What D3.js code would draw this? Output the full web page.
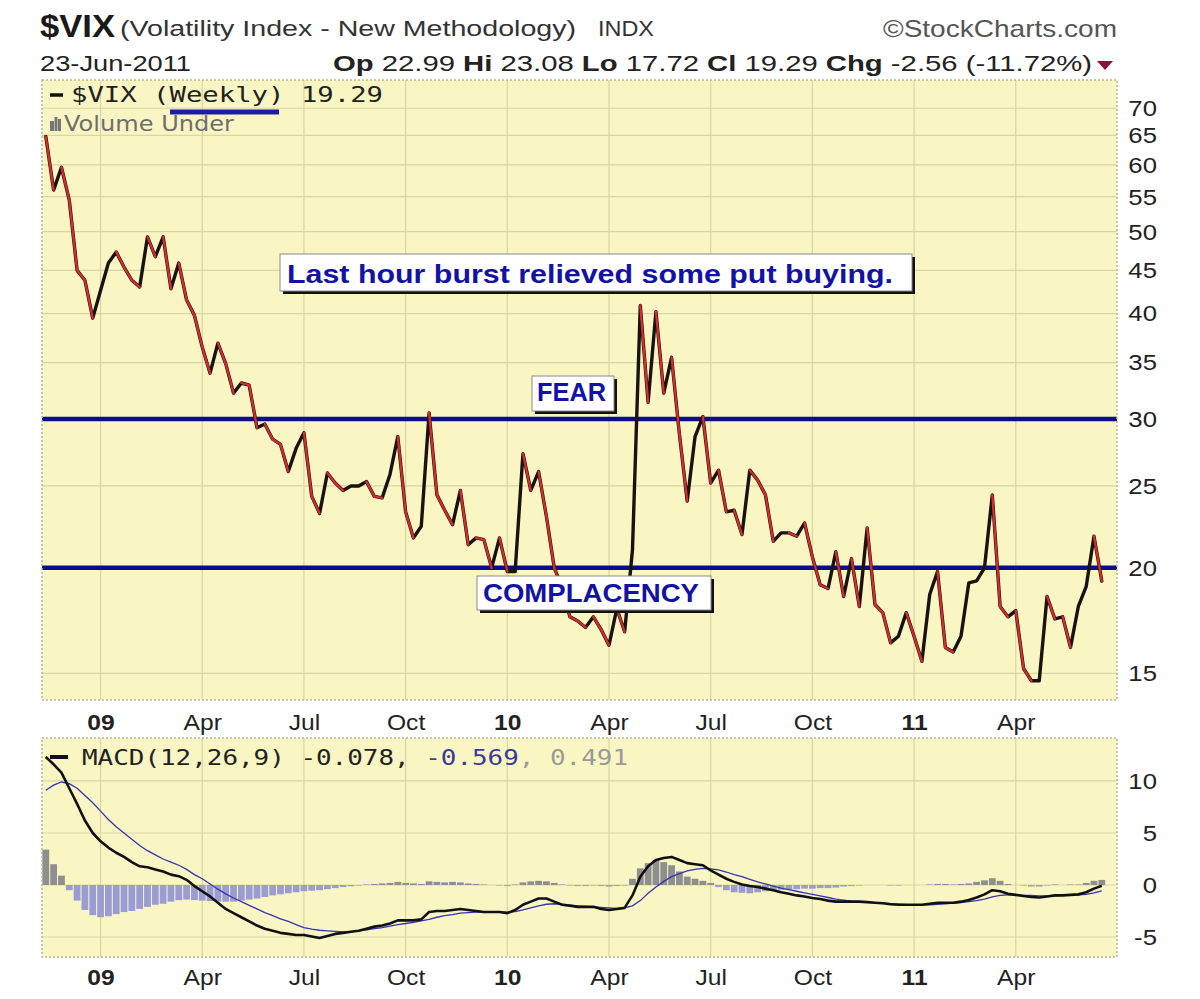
<!DOCTYPE html>
<html><head><meta charset="utf-8">
<script src="https://cdn.jsdelivr.net/npm/d3@7"></script>
<style>body{margin:0;background:#fff;}svg{display:block;}</style>
</head><body>
<svg id="c" width="1200" height="999"></svg>
<script>
// ---------------- DATA ----------------
const firstWeek = "2008-11-17";          // week of the first weekly bar
const vixClose = [64.8,56.0,59.6,54.5,45.0,43.8,39.5,42.6,45.9,47.3,
 45.4,43.8,43.0,49.3,46.7,49.3,42.8,45.9,41.5,39.8,
 36.5,34.0,36.9,34.9,32.2,33.1,32.9,29.3,29.6,28.4,
 28.0,26.0,27.7,28.9,24.3,23.2,25.9,25.2,24.7,25.0,
 25.0,25.3,24.3,24.2,25.8,28.6,23.3,21.7,22.4,30.5,
 24.4,23.4,22.5,24.7,21.3,21.7,21.6,20.0,21.7,19.8,
 19.8,27.3,24.7,26.0,23.0,20.0,19.0,17.5,17.3,17.0,
 17.5,16.9,16.2,17.9,16.8,21.0,40.9,31.4,40.2,32.2,
 35.5,28.8,24.0,28.6,30.2,25.2,26.1,23.3,23.4,21.9,
 26.1,25.4,24.4,21.5,22.0,22.0,21.8,22.6,20.6,19.1,
 18.9,20.9,18.5,20.5,18.0,22.3,18.1,17.7,16.3,16.6,
 17.7,16.6,15.5,18.6,19.8,16.1,15.9,16.6,19.2,19.3,
 20.0,24.4,18.0,17.5,17.8,15.2,14.7,14.7,18.5,17.4,
 17.5,16.1,18.0,19.0,21.8,19.29];
const macdLine = [12.3,11.6,10.8,9.3,7.8,6.2,5.0,4.2,3.6,3.1,
 2.7,2.2,1.8,1.7,1.5,1.3,1.0,0.85,0.5,-0.1,
 -0.6,-1.1,-1.7,-2.3,-2.7,-3.1,-3.5,-3.9,-4.2,-4.4,
 -4.6,-4.7,-4.8,-4.8,-4.95,-5.1,-4.9,-4.7,-4.6,-4.5,
 -4.4,-4.2,-4.0,-3.9,-3.7,-3.4,-3.4,-3.4,-3.3,-2.6,
 -2.5,-2.5,-2.4,-2.3,-2.4,-2.5,-2.6,-2.6,-2.6,-2.7,
 -2.4,-1.9,-1.6,-1.3,-1.3,-1.6,-1.9,-2.0,-2.1,-2.1,
 -2.1,-2.3,-2.4,-2.3,-2.2,-1.0,0.8,1.8,2.4,2.6,
 2.7,2.4,2.1,2.0,1.9,1.4,1.0,0.6,0.3,0.05,
 -0.1,-0.2,-0.35,-0.5,-0.7,-0.85,-1.0,-1.1,-1.25,-1.35,
 -1.5,-1.6,-1.6,-1.6,-1.6,-1.65,-1.7,-1.75,-1.85,-1.9,
 -1.9,-1.9,-1.9,-1.8,-1.7,-1.7,-1.7,-1.6,-1.45,-1.2,
 -0.9,-0.5,-0.6,-0.85,-0.95,-1.05,-1.15,-1.2,-1.1,-1.0,
 -1.0,-0.95,-0.9,-0.7,-0.35,-0.078];
const signalLine = [9.1,9.6,9.9,9.75,9.3,8.6,7.9,7.1,6.3,5.6,
 5.0,4.4,3.8,3.3,2.9,2.5,2.2,1.9,1.5,1.0,
 0.6,0.1,-0.4,-0.85,-1.25,-1.6,-1.95,-2.3,-2.65,-2.95,
 -3.25,-3.5,-3.8,-4.1,-4.25,-4.35,-4.4,-4.45,-4.5,-4.5,
 -4.4,-4.3,-4.2,-4.1,-3.95,-3.8,-3.7,-3.6,-3.45,-3.3,
 -3.1,-2.95,-2.85,-2.7,-2.65,-2.6,-2.6,-2.6,-2.6,-2.6,
 -2.55,-2.4,-2.2,-2.0,-1.85,-1.8,-1.85,-1.9,-2.0,-2.05,
 -2.1,-2.15,-2.2,-2.25,-2.2,-2.0,-1.5,-0.8,-0.2,0.35,
 0.8,1.1,1.35,1.5,1.6,1.55,1.45,1.25,1.0,0.8,
 0.55,0.3,0.1,-0.1,-0.3,-0.45,-0.6,-0.75,-0.9,-1.05,
 -1.2,-1.35,-1.45,-1.55,-1.6,-1.65,-1.7,-1.75,-1.8,-1.85,
 -1.9,-1.9,-1.9,-1.9,-1.85,-1.8,-1.75,-1.7,-1.6,-1.5,
 -1.35,-1.15,-1.0,-0.95,-0.95,-1.0,-1.0,-1.05,-1.05,-1.05,
 -1.0,-1.0,-0.95,-0.9,-0.75,-0.569];
const histogram = [3.4,2.0,0.9,-0.5,-1.5,-2.4,-2.9,-3.1,-3.0,-2.8,
 -2.6,-2.5,-2.3,-2.1,-1.9,-1.8,-1.6,-1.45,-1.4,-1.45,
 -1.5,-1.55,-1.6,-1.6,-1.6,-1.5,-1.4,-1.3,-1.15,-1.0,
 -0.9,-0.8,-0.7,-0.6,-0.55,-0.5,-0.4,-0.3,-0.2,-0.12,
 -0.05,0.05,0.1,0.15,0.2,0.3,0.2,0.15,0.1,0.35,
 0.3,0.25,0.3,0.25,0.15,0.1,0.05,0.0,-0.05,-0.1,
 0.05,0.25,0.35,0.4,0.35,0.2,0.05,-0.05,-0.1,-0.1,
 -0.05,-0.1,-0.15,-0.1,-0.05,0.6,1.6,2.1,2.4,2.2,
 1.9,1.3,0.8,0.6,0.4,0.2,-0.2,-0.5,-0.7,-0.75,
 -0.8,-0.7,-0.6,-0.5,-0.45,-0.4,-0.4,-0.35,-0.35,-0.3,
 -0.3,-0.25,-0.15,-0.1,-0.05,0.0,0.0,0.0,-0.05,-0.05,
 0.0,0.0,0.0,0.05,0.1,0.1,0.05,0.1,0.15,0.3,
 0.45,0.65,0.4,0.1,0.0,-0.05,-0.15,-0.15,-0.05,0.05,
 0.0,0.05,0.05,0.2,0.4,0.491];
const priceTicks = [15,20,25,30,35,40,45,50,55,60,65,70];
const macdTicks = [-5,0,5,10];
const tickMonths = ["2009-01","2009-04","2009-07","2009-10","2010-01","2010-04","2010-07","2010-10","2011-01","2011-04"];
const tickLabels = ["09","Apr","Jul","Oct","10","Apr","Jul","Oct","11","Apr"];
const levelLines = [30, 20];
const notes = ["Last hour burst relieved some put buying.", "FEAR", "COMPLACENCY"];

// ---------------- LAYOUT ----------------
const P = {l:42, r:1117, t:80, b:700};
const M = {l:42, r:1117, t:738, b:957};
const BG = "#faf6c4", GRID = "#d9d5a4";
const svg = d3.select("#c");
const FONT = "'Liberation Sans', Arial, Helvetica, sans-serif";
const MONO = "'DejaVu Sans Mono', 'Liberation Mono', monospace";

function txt(g, x, y, s, o={}) {
  const t = g.append("text").attr("x", x).attr("y", y)
    .attr("font-family", o.family || FONT).attr("font-size", o.size || 20)
    .attr("font-weight", o.weight || "normal").attr("fill", o.fill || "#222")
    .attr("text-anchor", o.anchor || "start").text(s);
  if (o.len) t.attr("textLength", o.len).attr("lengthAdjust", "spacingAndGlyphs");
  return t;
}

const start = d3.isoParse(firstWeek + "T00:00:00");
const weeks = vixClose.map((_, i) => d3.timeDay.offset(start, 7 * i));
const x = d3.scaleTime().domain([weeks[0], weeks[weeks.length - 1]]).range([45.8, 1101.8]);
const yP = d3.scaleLog().domain([13.95, 75.6]).range([P.b, P.t]);
const yM = d3.scaleLinear().domain([-6.92, 14.13]).range([M.b, M.t]);
const tickDates = tickMonths.map(m => weeks.find(w => d3.timeFormat("%Y-%m")(w) === m));

// ---------------- HEADER ----------------
const hd = svg.append("g");
txt(hd, 40, 37, "$VIX", {size:31, weight:"bold", len:75, fill:"#1a1a1a"});
txt(hd, 120, 36, "(Volatility Index - New Methodology)", {size:22, len:456, fill:"#333"});
txt(hd, 598, 36, "INDX", {size:22, len:56, fill:"#333"});
txt(hd, 883, 37, "\u00A9StockCharts.com", {size:24, len:234, fill:"#555"});
txt(hd, 40, 71, "23-Jun-2011", {size:22, len:151, fill:"#222"});
const ohlc = hd.append("text").attr("x", 333).attr("y", 71).attr("font-family", FONT)
  .attr("font-size", 22).attr("fill", "#222")
  .attr("textLength", 759).attr("lengthAdjust", "spacingAndGlyphs");
[["Op",1],[" 22.99  ",0],["Hi",1],[" 23.08  ",0],["Lo",1],[" 17.72  ",0],["Cl",1],[" 19.29  ",0],["Chg",1],[" -2.56 (-11.72%)",0]]
  .forEach(([s,b]) => ohlc.append("tspan").attr("font-weight", b ? "bold" : "normal").text(s));
hd.append("path").attr("d", "M1097,61 L1113,61 L1105,70 Z").attr("fill", "#8b1538");

// ---------------- PANELS ----------------
[P, M].forEach(p => {
  svg.append("rect").attr("x", p.l).attr("y", p.t).attr("width", p.r - p.l).attr("height", p.b - p.t).attr("fill", BG);
});
const grid = svg.append("g").attr("stroke", GRID).attr("stroke-width", 1.2);
priceTicks.forEach(v => grid.append("line").attr("x1", P.l).attr("x2", P.r).attr("y1", yP(v)).attr("y2", yP(v)));
macdTicks.forEach(v => grid.append("line").attr("x1", M.l).attr("x2", M.r).attr("y1", yM(v)).attr("y2", yM(v)));
tickDates.forEach(d => {
  grid.append("line").attr("x1", x(d)).attr("x2", x(d)).attr("y1", P.t).attr("y2", P.b);
  grid.append("line").attr("x1", x(d)).attr("x2", x(d)).attr("y1", M.t).attr("y2", M.b);
});

svg.append("defs").html(
  `<clipPath id="cp"><rect x="${P.l}" y="${P.t}" width="${P.r-P.l}" height="${P.b-P.t}"/></clipPath>
   <clipPath id="cm"><rect x="${M.l}" y="${M.t}" width="${M.r-M.l}" height="${M.b-M.t}"/></clipPath>`);

// level lines
const lv = svg.append("g").attr("clip-path", "url(#cp)");
levelLines.forEach(v => lv.append("line").attr("x1", P.l).attr("x2", P.r)
  .attr("y1", yP(v)).attr("y2", yP(v)).attr("stroke", "#0b0b8e").attr("stroke-width", 4.5));

// price line
const pts = vixClose.map((v, i) => [x(weeks[i]), yP(v)]);
const pg = svg.append("g").attr("clip-path", "url(#cp)");
pg.append("path").attr("d", d3.line()(pts)).attr("fill", "none")
  .attr("stroke", "#1a1212").attr("stroke-width", 3.4).attr("stroke-linejoin", "round").attr("stroke-linecap", "round");
const redSegs = [];
for (let i = 1; i < vixClose.length; i++) if (vixClose[i] < vixClose[i-1]) redSegs.push([pts[i-1], pts[i]]);
pg.selectAll("path.dn").data(redSegs).join("path").attr("class", "dn")
  .attr("d", d => d3.line()(d)).attr("fill", "none").attr("stroke", "#d62b2b")
  .attr("stroke-width", 2.3).attr("stroke-linecap", "round");

// MACD
const mg = svg.append("g").attr("clip-path", "url(#cm)");
mg.selectAll("rect.h").data(histogram).join("rect").attr("class", "h")
  .attr("x", (d, i) => x(weeks[i]) - 3.4).attr("width", 6.8)
  .attr("y", d => Math.min(yM(d), yM(0))).attr("height", d => Math.abs(yM(d) - yM(0)))
  .attr("fill", d => d >= 0 ? "#8f8f8f" : "#9c9cd4");
mg.append("path").attr("d", d3.line().x((d, i) => x(weeks[i])).y(d => yM(d))(signalLine))
  .attr("fill", "none").attr("stroke", "#3434b4").attr("stroke-width", 1.3);
mg.append("path").attr("d", d3.line().x((d, i) => x(weeks[i])).y(d => yM(d))(macdLine))
  .attr("fill", "none").attr("stroke", "#111").attr("stroke-width", 2.6).attr("stroke-linejoin", "round");

// panel borders (dotted)
[P, M].forEach(p => svg.append("rect").attr("x", p.l).attr("y", p.t).attr("width", p.r - p.l).attr("height", p.b - p.t)
  .attr("fill", "none").attr("stroke", "#b9b59a").attr("stroke-width", 1.5).attr("stroke-dasharray", "2,2"));

// ---------------- AXES ----------------
function styleAxis(g, size, boldFn) {
  g.select(".domain").remove();
  g.selectAll("line").remove();
  g.selectAll("text").attr("font-family", FONT).attr("font-size", size).attr("fill", "#222")
    .attr("font-weight", (d, i) => boldFn && boldFn(i) ? "bold" : "normal");
}
const plain = d => String(d);
const yAxisP = svg.append("g").attr("transform", `translate(1157,0)`)
  .call(d3.axisRight(yP).tickValues(priceTicks).tickSize(0).tickPadding(0).tickFormat(plain));
styleAxis(yAxisP, 23);
yAxisP.selectAll("text").attr("text-anchor", "end").attr("transform", "scale(1.12,1)");
const yAxisM = svg.append("g").attr("transform", `translate(1157,0)`)
  .call(d3.axisRight(yM).tickValues(macdTicks).tickSize(0).tickPadding(0).tickFormat(plain));
styleAxis(yAxisM, 23);
yAxisM.selectAll("text").attr("text-anchor", "end").attr("transform", "scale(1.12,1)");

const isYear = i => /^\d\d$/.test(tickLabels[i]);
[722, 977].forEach(yy => {
  const ax = svg.append("g").attr("transform", `translate(0,${yy})`)
    .call(d3.axisBottom(x).tickValues(tickDates).tickSize(0).tickPadding(0).tickFormat((d, i) => tickLabels[i]));
  styleAxis(ax, 22, isYear);
  ax.selectAll("text").attr("dy", "0.36em").attr("y", 0).attr("transform", "scale(1.12,1)");
});

// ---------------- LEGENDS ----------------
const lg = svg.append("g");
lg.append("line").attr("x1", 50).attr("x2", 63).attr("y1", 95).attr("y2", 95).attr("stroke", "#111").attr("stroke-width", 3.5);
txt(lg, 71, 102, "$VIX (Weekly) 19.29", {family: MONO, size: 22, len: 312, fill: "#222"});
[[50,121,4,10],[54.5,117,3,14],[58,119,3,12]].forEach(r => lg.append("rect")
  .attr("x", r[0]).attr("y", r[1]).attr("width", r[2]).attr("height", r[3]).attr("fill", "#777"));
txt(lg, 64, 131, "Volume Under", {size: 21, len: 170, fill: "#6e6e6e", family: "'DejaVu Sans', Verdana, sans-serif"});
lg.append("line").attr("x1", 170).attr("x2", 279).attr("y1", 112).attr("y2", 112)
  .attr("stroke", "#1c1ca6").attr("stroke-width", 5);

lg.append("line").attr("x1", 50).attr("x2", 68).attr("y1", 757).attr("y2", 757).attr("stroke", "#111").attr("stroke-width", 4);
const ml = lg.append("text").attr("x", 82).attr("y", 765).attr("font-family", MONO).attr("font-size", 22)
  .attr("textLength", 546).attr("lengthAdjust", "spacingAndGlyphs");
ml.append("tspan").attr("fill", "#222").text("MACD(12,26,9) -0.078, ");
ml.append("tspan").attr("fill", "#3a3a9a").text("-0.569");
ml.append("tspan").attr("fill", "#9a9a9a").text(", 0.491");

// ---------------- ANNOTATION BOXES ----------------
const boxes = [
  {t: notes[0], x: 280, y: 254, w: 632, h: 37, tx: 287, ty: 283, len: 606, size: 26},
  {t: notes[1], x: 532, y: 376, w: 82, h: 35, tx: 537, ty: 401, len: 69, size: 25},
  {t: notes[2], x: 477, y: 576, w: 234, h: 34, tx: 483, ty: 602, len: 216, size: 25}
];
const bg = svg.append("g");
boxes.forEach(b => {
  bg.append("rect").attr("x", b.x + 3).attr("y", b.y + 3).attr("width", b.w).attr("height", b.h).attr("fill", "#111");
  bg.append("rect").attr("x", b.x).attr("y", b.y).attr("width", b.w).attr("height", b.h)
    .attr("fill", "#fff").attr("stroke", "#8a8a8a").attr("stroke-width", 1);
  txt(bg, b.tx, b.ty, b.t, {size: b.size, weight: "bold", fill: "#1212a6", len: b.len, family: "'Liberation Sans', Arial, sans-serif"});
});
</script>
</body></html>
